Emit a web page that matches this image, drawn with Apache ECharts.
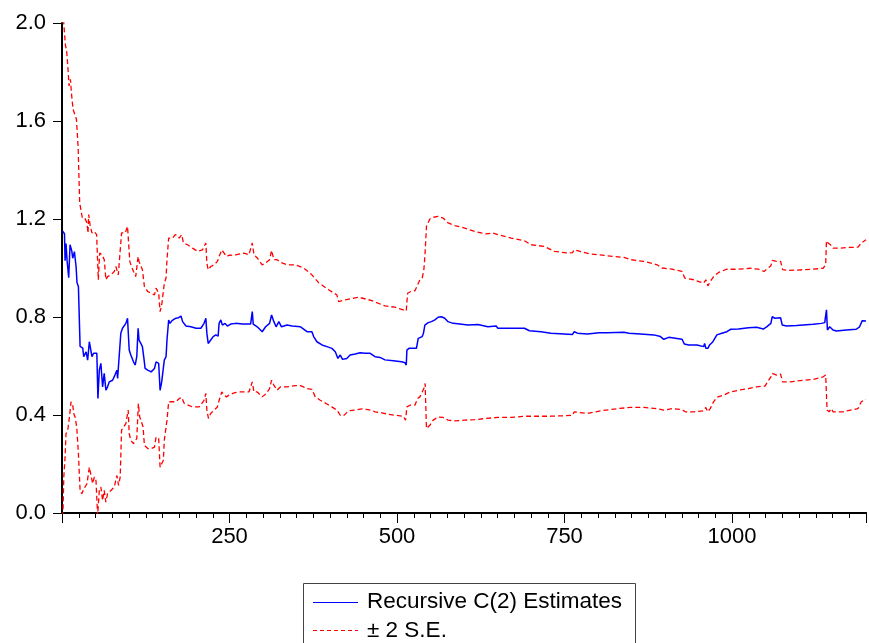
<!DOCTYPE html>
<html>
<head>
<meta charset="utf-8">
<title>Recursive C(2) Estimates</title>
<script src="https://cdn.jsdelivr.net/npm/echarts/dist/echarts.min.js"></script>
<style>
  html, body { margin: 0; padding: 0; background: #fff; }
  #chart_rec { width: 869px; height: 643px; }
</style>
</head>
<body>
<div id="chart_rec"></div>
<script>
// x range of the recursive sample
const xMin = 0;
const xMax = 1200;
const yMin = 0;
const yMax = 2.0;
const minorStep = 25;

// recursive C(2) estimate, [obs, value]
const estimate = [
  [1,1.15],[3.7,1.14],[4.6,1.03],[6,1.10],[7.6,1.03],[10,0.96],[12,1.095],[14.6,1.07],[16,1.04],[18.5,1.067],
  [21,1.006],[22.4,0.94],[24.5,0.924],[27,0.68],[31,0.673],[32.4,0.638],[36,0.658],[38.3,0.624],[40.8,0.699],[43,0.692],
  [44.7,0.638],[47.2,0.652],[49.7,0.658],[52,0.652],[53.6,0.467],[55.7,0.583],[58,0.611],[60.6,0.515],[63,0.57],[65.5,0.501],
  [68,0.515],[70.5,0.535],[75.5,0.542],[79,0.563],[82,0.583],[83,0.549],[85.4,0.556],[87.8,0.734],[90.3,0.754],[92.8,0.754],
  [95.3,0.774],[97.8,0.795],[99.3,0.801],[100.3,0.665],[102.7,0.645],[106.7,0.617],[109.2,0.604],[111.6,0.638],[113.6,0.754],[115,0.706],
  [117.6,0.692],[120,0.679],[122.6,0.624],[124,0.59],[128,0.583],[133,0.576],[138,0.59],[140.4,0.617],[144.3,0.611],[146.4,0.501],
  [148.8,0.535],[151.3,0.542],[152.7,0.624],[155.3,0.638],[156.7,0.706],[159.2,0.788],[161.2,0.774],[164.2,0.785],[166.6,0.781],[170,0.795],
  [174,0.797],[177.6,0.804],[180,0.781],[185,0.763],[192.4,0.76],[200,0.754],[207.3,0.754],[212,0.774],[214.7,0.795],[216.2,0.734],
  [218.2,0.692],[222,0.706],[225.6,0.72],[229.6,0.727],[233,0.722],[234.5,0.774],[237,0.788],[239.4,0.767],[243.4,0.774],[246.8,0.763],
  [251.8,0.771],[259.3,0.774],[269,0.771],[281.5,0.771],[284,0.822],[285.4,0.771],[291.4,0.76],[298.8,0.74],[303.9,0.76],[309.8,0.774],
  [312.8,0.808],[316.2,0.781],[319.6,0.76],[323.6,0.781],[327.6,0.76],[336,0.767],[343.4,0.763],[356,0.76],[365.7,0.74],[373,0.74],
  [375.6,0.72],[380.5,0.699],[388,0.686],[395.4,0.679],[402.8,0.672],[407.9,0.658],[410.3,0.652],[411.8,0.631],[415.3,0.645],[418.7,0.627],
  [425,0.631],[430,0.645],[437.6,0.649],[445,0.654],[452.4,0.652],[459.9,0.652],[467.3,0.638],[474.7,0.635],[482,0.625],[494.5,0.621],
  [506.8,0.617],[512,0.613],[513.8,0.604],[514.8,0.665],[517.8,0.672],[524.2,0.672],[529,0.672],[531.7,0.713],[534,0.709],[537.6,0.72],
  [539.5,0.734],[541.6,0.767],[544,0.76],[546.5,0.777],[551.5,0.781],[556.5,0.788],[561.4,0.799],[566.3,0.801],[571.3,0.795],[576.2,0.781],
  [583.7,0.774],[593.6,0.771],[606,0.767],[620.8,0.769],[635.7,0.76],[648,0.763],[650.5,0.754],[670.3,0.754],[690.2,0.754],[697.6,0.744],
  [714.9,0.74],[729.7,0.734],[749.6,0.731],[762,0.729],[764.5,0.74],[769.4,0.734],[784.2,0.731],[786.8,0.738],[801.6,0.736],[814,0.736],
  [838.8,0.738],[846.2,0.734],[863.5,0.731],[883.4,0.727],[893.2,0.72],[898.2,0.709],[905.6,0.717],[915.4,0.713],[925.4,0.709],[928.8,0.69],
  [935.4,0.686],[947.7,0.686],[957.7,0.679],[959.1,0.692],[961,0.672],[964,0.672],[966.6,0.686],[968.5,0.679],[971.5,0.699],[977.4,0.727],
  [984.9,0.734],[992.3,0.74],[998.2,0.75],[1009.6,0.751],[1024.5,0.756],[1036.8,0.758],[1046.7,0.751],[1051.7,0.76],[1058,0.774],[1060,0.801],
  [1064,0.795],[1072.5,0.797],[1075,0.767],[1081.4,0.763],[1096.3,0.765],[1106.2,0.767],[1121,0.77],[1133.4,0.774],[1138.4,0.777],[1141,0.829],
  [1142.4,0.747],[1145.8,0.76],[1148.3,0.765],[1150.8,0.747],[1155.7,0.743],[1170.6,0.747],[1185.4,0.75],[1190.4,0.76],[1194.4,0.785],[1200,0.784]
];

// + 2 S.E. band
const upperBand = [
  [1.5,2.08],[2.7,1.996],[5.2,1.907],[6.7,1.893],[9,1.811],[10.5,1.743],[12.6,1.77],[14,1.716],[16.5,1.648],[19,1.654],
  [21.5,1.607],[24,1.497],[26.4,1.266],[30.4,1.204],[33.9,1.204],[37.3,1.184],[38.8,1.143],[39.8,1.218],[41.8,1.177],[44.7,1.143],
  [48.3,1.149],[51.7,1.136],[54.2,0.952],[56.2,1.061],[59.6,1.054],[63.1,1.034],[65.5,0.952],[68,0.965],[73,0.972],[78,0.986],
  [80.4,1.006],[84,0.972],[86.9,0.979],[88.9,1.143],[91.4,1.149],[94.4,1.143],[97.8,1.17],[99.3,1.177],[101.2,1.027],[103.7,1.006],
  [106.7,0.986],[110,0.965],[111.6,0.972],[113.6,1.047],[115,1.027],[117.6,1.02],[120,0.993],[121.5,0.986],[123,0.924],[128,0.904],
  [133,0.897],[138,0.89],[140.4,0.918],[144.3,0.897],[146.4,0.822],[148.8,0.849],[151.3,0.856],[152.7,0.938],[155.3,0.959],[156.7,1.034],
  [159.2,1.122],[161.7,1.129],[165,1.122],[169,1.136],[172.5,1.132],[175,1.122],[178.5,1.136],[181.4,1.102],[187.4,1.095],[194.8,1.081],
  [202.3,1.068],[209.7,1.074],[214.7,1.102],[216.2,1.02],[218.2,0.993],[222,1.006],[227,1.013],[232,1.027],[234.5,1.047],[238.5,1.074],
  [242,1.061],[245.4,1.047],[249.3,1.052],[259.3,1.054],[271.6,1.061],[279,1.054],[284,1.102],[286.5,1.054],[291.4,1.041],[298.8,1.013],
  [303.9,1.02],[309.8,1.034],[312.8,1.072],[316.2,1.034],[321,1.034],[326.2,1.023],[336,1.013],[348.4,1.013],[360.8,1.0],[373,0.972],
  [383,0.94],[398,0.911],[410.3,0.89],[412.8,0.863],[422.7,0.87],[442.5,0.881],[462.3,0.867],[482,0.845],[497,0.84],[509.4,0.829],
  [513.8,0.825],[515.8,0.897],[520.8,0.904],[526.8,0.907],[530.7,0.931],[534.2,0.952],[537.6,0.959],[540.1,0.993],[541.6,1.047],[544,1.17],
  [549,1.2],[554,1.207],[561.4,1.211],[568.8,1.204],[576.2,1.184],[586.2,1.173],[601,1.163],[615.9,1.149],[633.1,1.139],[643,1.143],
  [650.5,1.136],[670.3,1.122],[690.2,1.111],[700,1.095],[720,1.088],[734.8,1.068],[754.5,1.061],[762,1.063],[764.5,1.074],[786.8,1.058],
  [789.2,1.05],[814,1.05],[838.8,1.043],[848.6,1.034],[868.5,1.027],[888.3,1.013],[895.7,1.0],[910.6,0.995],[925.4,0.986],[929.4,0.959],
  [942.7,0.952],[957.7,0.938],[961,0.952],[964,0.927],[967.5,0.945],[972.5,0.965],[980,0.982],[992.3,0.995],[1009.6,0.995],[1026.9,0.999],
  [1039.3,0.995],[1047.7,0.986],[1051.7,0.995],[1058,1.009],[1060,1.031],[1066.6,1.027],[1072.5,1.027],[1075.5,0.993],[1086.3,0.99],[1106.2,0.993],
  [1121,0.995],[1136,0.999],[1139.8,1.013],[1141,1.111],[1143.5,1.102],[1146.9,1.095],[1150.8,1.081],[1160.6,1.081],[1175.5,1.084],[1188,1.085],
  [1193,1.102],[1200,1.115]
];

// - 2 S.E. band
const lowerBand = [
  [1,-0.05],[2.7,0.147],[4.6,0.228],[6,0.324],[8.6,0.338],[11.1,0.392],[13.5,0.454],[16,0.44],[17.5,0.406],[19.5,0.392],
  [22,0.351],[24.5,0.242],[27,0.092],[29.4,0.079],[32,0.072],[34.3,0.106],[37.3,0.12],[40.8,0.187],[43.3,0.187],[45.8,0.12],
  [48.3,0.147],[50.7,0.133],[53.2,-0.01],[55.7,0.092],[58,0.106],[60.6,0.051],[63,0.092],[65.5,0.044],[68,0.079],[73,0.092],
  [78,0.106],[82,0.153],[84.4,0.113],[86.9,0.147],[88.9,0.338],[91.8,0.351],[95.3,0.365],[98.8,0.42],[100.3,0.324],[102.7,0.297],
  [106.7,0.283],[109.2,0.276],[111.6,0.304],[114,0.447],[116,0.392],[118.6,0.372],[121,0.351],[123,0.276],[128,0.263],[133,0.263],
  [138,0.269],[140.4,0.31],[144.3,0.304],[146.4,0.187],[148.8,0.201],[151.3,0.215],[152.7,0.297],[155.3,0.297],[156.7,0.379],[159.2,0.454],
  [161.7,0.447],[165,0.454],[170,0.454],[175,0.467],[178.5,0.472],[182.5,0.447],[194.8,0.433],[204.8,0.433],[212,0.46],[214.7,0.488],
  [216.2,0.42],[218.6,0.386],[222,0.406],[227,0.42],[232,0.433],[234.5,0.46],[238.5,0.494],[242,0.481],[245.4,0.474],[249.3,0.481],
  [256.8,0.49],[264,0.494],[269,0.494],[279,0.494],[284,0.535],[286.5,0.494],[291.4,0.494],[298.8,0.474],[304.8,0.488],[309.8,0.508],
  [312.8,0.542],[316.2,0.522],[321,0.501],[326.2,0.515],[336,0.515],[348.4,0.52],[356,0.52],[365.7,0.508],[373,0.505],[378,0.474],
  [385.5,0.46],[395.4,0.445],[402.8,0.433],[410.3,0.42],[415.3,0.399],[420.2,0.397],[427.6,0.417],[437.6,0.42],[447.4,0.425],[457.4,0.422],
  [467.3,0.413],[477.1,0.409],[487,0.403],[497,0.399],[509.4,0.395],[512.8,0.379],[514.8,0.433],[519.3,0.44],[526.8,0.44],[530.7,0.467],
  [534.2,0.474],[537.6,0.494],[540.1,0.508],[542,0.529],[543,0.433],[544,0.345],[549,0.358],[554,0.379],[561.4,0.392],[568.8,0.39],
  [576.2,0.379],[586.2,0.376],[601,0.379],[615.9,0.381],[633.1,0.386],[650.5,0.39],[670.3,0.39],[690.2,0.395],[710,0.395],[729.7,0.395],
  [749.6,0.397],[762,0.399],[764.5,0.413],[784.2,0.406],[804,0.417],[829,0.426],[848.6,0.431],[868.5,0.431],[888.3,0.426],[898.2,0.42],
  [910.6,0.426],[925.4,0.422],[930.3,0.413],[942.7,0.413],[957.7,0.417],[961,0.431],[963.6,0.413],[967.5,0.426],[972.5,0.454],[977.4,0.472],
  [987.4,0.481],[997.2,0.494],[1009.6,0.501],[1024.5,0.508],[1036.8,0.515],[1049.2,0.518],[1051.7,0.522],[1058,0.556],[1060,0.57],[1066.6,0.563],
  [1072.5,0.567],[1075.5,0.535],[1086.3,0.535],[1106.2,0.542],[1121,0.545],[1136,0.556],[1139.8,0.563],[1141.9,0.42],[1144.9,0.413],[1148.3,0.426],
  [1150.8,0.413],[1165.7,0.413],[1180.5,0.422],[1188,0.426],[1193,0.454],[1200,0.463]
];

const legendNames = ['Recursive C(2) Estimates', '\u00b1 2 S.E.'];

// tick positions for the short ticks (0, 25, ... 1200), drawn on a category axis
let tickCats = [];
for (let v = xMin; v <= xMax; v += minorStep) {
  tickCats.push(String(v));
}

let myChart = echarts.init(document.getElementById('chart_rec'));
let font = 'Liberation Sans, Arial, sans-serif';
let blue = '#0000ff';
let red = '#ff0000';

let option = {
  animation: false,
  backgroundColor: '#fff',
  grid: {
    left: 62,
    right: 1,
    top: 23,
    bottom: 130
  },
  xAxis: [
    {
      // labelled ticks, carries the series
      type: 'value',
      min: xMin,
      max: xMax,
      interval: 250,
      position: 'bottom',
      axisLine: { show: true, onZero: false, lineStyle: { color: '#000', width: 2 } },
      axisTick: { show: true, inside: false, length: 10, lineStyle: { color: '#000', width: 1 } },
      axisLabel: {
        color: '#000',
        fontSize: 22,
        fontFamily: font,
        margin: 13,
        formatter: function (v) {
          return (v > 0 && v % 250 === 0) ? String(v) : '';
        }
      },
      splitLine: { show: false }
    },
    {
      // short ticks every 25 obs
      type: 'category',
      data: tickCats,
      boundaryGap: false,
      position: 'bottom',
      axisLine: { show: false, onZero: false },
      axisTick: { show: true, inside: false, interval: 0, length: 5, lineStyle: { color: '#000', width: 1 } },
      axisLabel: { show: false },
      splitLine: { show: false }
    },
    {
      // top frame line
      type: 'value',
      min: xMin,
      max: xMax,
      position: 'top',
      axisLine: { show: true, lineStyle: { color: '#000', width: 2 } },
      axisTick: { show: false },
      axisLabel: { show: false },
      splitLine: { show: false }
    }
  ],
  yAxis: {
    type: 'value',
    min: yMin,
    max: yMax,
    interval: 0.4,
    axisLine: { show: true, onZero: false, lineStyle: { color: '#000', width: 2 } },
    axisTick: { show: true, inside: false, length: 9, lineStyle: { color: '#000', width: 1 } },
    axisLabel: {
      color: '#000',
      fontSize: 22,
      fontFamily: font,
      margin: 16,
      formatter: function (v) { return v.toFixed(1); }
    },
    splitLine: { show: false }
  },
  series: [
    {
      name: legendNames[0],
      type: 'line',
      xAxisIndex: 0,
      data: estimate,
      symbol: 'none',
      lineStyle: { color: blue, width: 1.5 },
      z: 3
    },
    {
      name: legendNames[1],
      type: 'line',
      xAxisIndex: 0,
      data: upperBand,
      symbol: 'none',
      lineStyle: { color: red, width: 1.3, type: [5, 3] }
    },
    {
      name: legendNames[1],
      type: 'line',
      xAxisIndex: 0,
      data: lowerBand,
      symbol: 'none',
      lineStyle: { color: red, width: 1.3, type: [5, 3] }
    }
  ],
  // boxed legend under the plot
  graphic: [
    {
      type: 'rect',
      shape: { x: 303.5, y: 583.5, width: 332, height: 80 },
      style: { fill: '#fff', stroke: '#444', lineWidth: 1 }
    },
    {
      type: 'line',
      shape: { x1: 313, y1: 602.5, x2: 358, y2: 602.5 },
      style: { stroke: blue, lineWidth: 1.2 }
    },
    {
      type: 'text',
      left: 367,
      top: 590,
      style: { text: legendNames[0], fill: '#000', font: '22.5px ' + font }
    },
    {
      type: 'line',
      shape: { x1: 313, y1: 630.5, x2: 358, y2: 630.5 },
      style: { stroke: red, lineWidth: 1.2, lineDash: [4, 3] }
    },
    {
      type: 'text',
      left: 367,
      top: 619,
      style: { text: legendNames[1], fill: '#000', font: '22.5px ' + font }
    }
  ]
};

myChart.setOption(option, true);

window.addEventListener('resize', () => {
  myChart.resize();
});
</script>
</body>
</html>
